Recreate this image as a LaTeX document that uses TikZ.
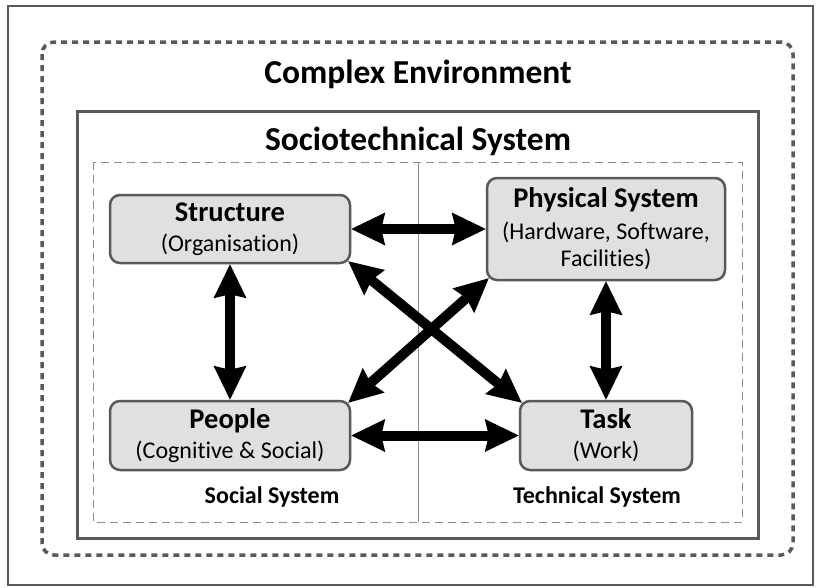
\documentclass[tikz,border=0pt]{standalone}
\usepackage{fontspec}
\setmainfont{Carlito}[Ligatures=NoCommon]
\usetikzlibrary{arrows.meta}
\definecolor{framegray}{HTML}{595959}
\definecolor{boxfill}{HTML}{E0E0E0}
\definecolor{thingray}{HTML}{8C8C8C}
\begin{document}
\begin{tikzpicture}[x=1pt,y=-1pt,
  box/.style={draw=framegray,line width=2.5pt,fill=boxfill,rounded corners=10pt,
    align=center,inner sep=0pt,font=\fontsize{24}{27}\selectfont},
  title/.style={font=\bfseries\fontsize{33.5}{33.5}\selectfont,anchor=base,inner sep=0pt},
  sublabel/.style={font=\bfseries\fontsize{24}{24}\selectfont,anchor=base,inner sep=0pt},
  tipshape/.tip={Stealth[length=34pt,width=33pt,inset=4pt,line width=0pt]},
  link/.style={line width=10pt,tipshape-tipshape}]
\useasboundingbox (0,0) rectangle (820,587);
% frames
\draw[framegray,line width=2.5pt] (8,6) rectangle (813,585);
\draw[framegray,line width=3.5pt,dash pattern=on 6pt off 5pt,rounded corners=12pt] (42,42) rectangle (793,555);
\draw[framegray,line width=3pt] (77,111) rectangle (758,538);
\draw[thingray,line width=0.8pt,dash pattern=on 8pt off 5pt] (93,162) rectangle (742,522);
\draw[thingray,line width=0.8pt] (418,162) -- (418,522);
% titles
\node[title] (env) at (418,83) {Complex Environment};
\node[title] (sts) at (418,150) {Sociotechnical System};
\node[sublabel] (social) at (272,503) {Social System};
\node[sublabel] (technical) at (597,503) {Technical System};
% boxes
\node[box,minimum width=240pt,minimum height=68pt] (structure) at (230,229)
  {{\bfseries\fontsize{28.5}{28.5}\selectfont Structure}\\[3pt](Organisation)};
\node[box,minimum width=238pt,minimum height=102pt] (physical) at (606,229)
  {{\bfseries\fontsize{28.5}{28.5}\selectfont Physical System}\\[5pt](Hardware, Software,\\Facilities)};
\node[box,minimum width=240pt,minimum height=69pt] (people) at (230,435.5)
  {{\bfseries\fontsize{28.5}{28.5}\selectfont People}\\[3pt](Cognitive \& Social)};
\node[box,minimum width=172pt,minimum height=69pt] (task) at (606,435.5)
  {{\bfseries\fontsize{28.5}{28.5}\selectfont Task}\\[3pt](Work)};
% links
\draw[link] (structure.east) -- (physical.west);
\draw[link] (people.east) -- (task.west);
\draw[link] (structure.south) -- (people.north);
\draw[link] (physical.south) -- (task.north);
\draw[link] ([shift={(-3,-3)}]structure.south east) -- ([shift={(3,3)}]task.north west);
\draw[link] ([shift={(-3,3)}]people.north east) -- ([shift={(3,-3)}]physical.south west);
\end{tikzpicture}
\end{document}
